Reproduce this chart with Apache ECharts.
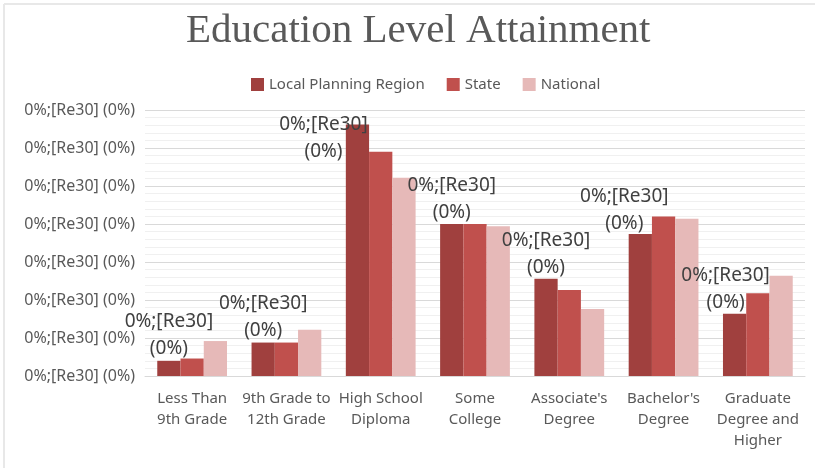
<!DOCTYPE html>
<html>
<head>
	<meta charset="utf-8">
	<title>Education Level Attainment</title>
	<script src="https://cdn.jsdelivr.net/npm/echarts@6/dist/echarts.min.js"></script>
</head>
<style type="text/css">
html, body {
	margin: 0;
	padding: 0;
	background: #fff;
}
#chart {
	width: 815px;
	height: 468px;
}
</style>
<body>
	<div id="chart"></div>
</body>
<script type="text/javascript">
	// categories (x axis)
	var categories = ['Less Than\n9th Grade', '9th Grade to\n12th Grade', 'High School\nDiploma',
		'Some\nCollege', "Associate's\nDegree", "Bachelor's\nDegree", 'Graduate\nDegree and\nHigher'];

	// series values, in percent
	var localRegion = [2.0, 4.4, 33.1, 20.0, 12.8, 18.7, 8.2];
	var stateValues = [2.3, 4.4, 29.5, 20.0, 11.3, 21.0, 10.9];
	var nationalValues = [4.6, 6.1, 26.1, 19.7, 8.8, 20.7, 13.2];

	// the broken number format shown on every tick and data label
	var tickLabel = '0%;[Re30] (0%)';
	var dataLabel = '0%;[Re30]\n(0%)';

	// nudges for the data labels, like Excel placed them
	var labelShift = [[0, 6], [0, 7], [-34, 46], [0, 7], [0, 7], [-16, 8], [-9, 7]];

	var chart = echarts.init(document.getElementById('chart'));

	var localData = [];
	for (var i = 0; i < localRegion.length; i++) {
		localData.push({
			value: localRegion[i],
			label: { offset: labelShift[i] }
		});
	}

	var option = {
		backgroundColor: '#fff',
		color: ['#a0403e', '#c0504d', '#e6b9b8'],
		title: {
			text: 'Education Level Attainment',
			left: 181,
			top: 6,
			textStyle: {
				fontFamily: 'Liberation Serif',
				fontSize: 41,
				fontWeight: 'normal',
				color: '#595959'
			}
		},
		legend: {
			top: 72,
			left: 246,
			itemWidth: 13,
			itemHeight: 13,
			itemGap: 22,
			icon: 'rect',
			textStyle: {
				fontFamily: 'Noto Sans',
				fontSize: 15,
				color: '#595959'
			},
			data: ['Local Planning Region', 'State', 'National']
		},
		grid: {
			left: 145,
			right: 10,
			top: 110,
			bottom: 92
		},
		xAxis: {
			type: 'category',
			data: categories,
			axisTick: { show: false },
			axisLine: { lineStyle: { color: '#d9d9d9' } },
			axisLabel: {
				interval: 0,
				margin: 12,
				fontFamily: 'Noto Sans',
				fontSize: 15,
				lineHeight: 21,
				color: '#595959'
			}
		},
		yAxis: {
			type: 'value',
			min: 0,
			max: 35,
			interval: 5,
			axisLine: { show: false },
			axisTick: { show: false },
			axisLabel: {
				margin: 10,
				fontFamily: 'Noto Sans',
				fontSize: 16,
				color: '#595959',
				formatter: function () { return tickLabel; }
			},
			splitLine: { lineStyle: { color: '#d9d9d9' } },
			minorTick: { show: false, splitNumber: 5 },
			minorSplitLine: { show: true, lineStyle: { color: '#f0f0f0' } }
		},
		series: [
			{
				name: 'Local Planning Region',
				type: 'bar',
				barGap: 0,
				barCategoryGap: '26%',
				data: localData,
				label: {
					show: true,
					position: 'top',
					distance: 5,
					formatter: dataLabel,
					fontFamily: 'Noto Sans',
					fontSize: 19,
					lineHeight: 27,
					color: '#404040'
				}
			},
			{
				name: 'State',
				type: 'bar',
				barGap: 0,
				barCategoryGap: '26%',
				data: stateValues
			},
			{
				name: 'National',
				type: 'bar',
				barGap: 0,
				barCategoryGap: '26%',
				data: nationalValues
			}
		],
		graphic: [
			{ type: 'line', shape: { x1: 4, y1: 4, x2: 815, y2: 4 }, style: { stroke: '#e8e8e8', lineWidth: 2 } },
			{ type: 'line', shape: { x1: 4, y1: 4, x2: 4, y2: 468 }, style: { stroke: '#e8e8e8', lineWidth: 2 } }
		]
	};

	chart.setOption(option);
</script>
</html>
